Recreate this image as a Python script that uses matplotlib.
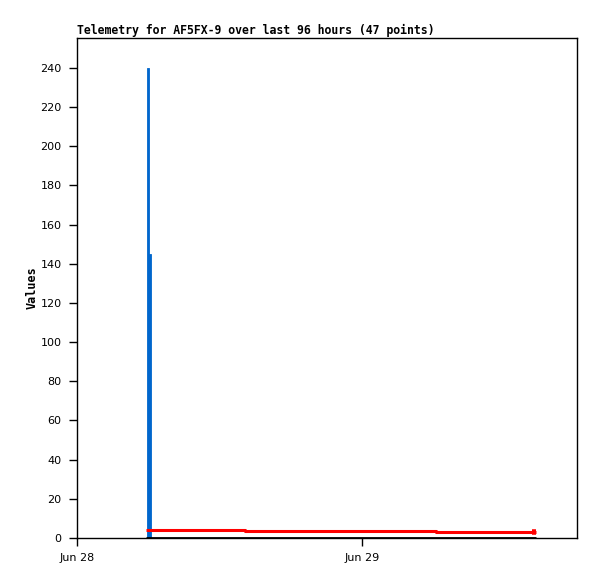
import datetime as dt

import matplotlib
matplotlib.use("Agg")
import matplotlib.dates as mdates
import matplotlib.pyplot as plt

start = dt.datetime(2024, 6, 28)

# hours after Jun 28 00:00
spike_hours = [5.98, 6.17]
spike_values = [240, 145]

red_hours = [5.81, 14.15, 30.23, 38.30, 38.65]
red_values = [3.9, 3.4, 2.9, 2.9, 2.9]

black_hours = [5.81, 38.65]
black_values = [0, 0]

x_start_hours = 0
x_end_hours = 42.1


def to_dates(hours):
    return [start + dt.timedelta(hours=h) for h in hours]


fig = plt.figure(figsize=(5.97, 5.79), dpi=100)
ax = fig.add_axes([77 / 597, 41 / 579, 500 / 597, 500 / 579])

ax.bar(to_dates(spike_hours), spike_values, width=0.2 / 24, color="#0066cc",
       edgecolor="#0066cc", linewidth=0.6, align="center")
ax.plot(to_dates(black_hours), black_values, color="black", linewidth=2, solid_capstyle="butt")
ax.plot(to_dates(red_hours), red_values, color="red", linewidth=2.2,
        drawstyle="steps-post", solid_capstyle="butt")
ax.plot(to_dates(red_hours[-2:]), [red_values[-1] + 0.3] * 2, color="red",
        linewidth=4, solid_capstyle="butt")

ax.set_xlim(to_dates([x_start_hours])[0], to_dates([x_end_hours])[0])
ax.set_ylim(0, 255.3)
ax.set_yticks(range(0, 241, 20))
ax.xaxis.set_major_locator(mdates.DayLocator())
ax.xaxis.set_major_formatter(mdates.DateFormatter("%b %d"))
ax.tick_params(direction="out", length=6, width=1, labelsize=8, pad=5)
for spine in ax.spines.values():
    spine.set_linewidth(1)

ax.set_ylabel("Values", fontfamily="DejaVu Sans Mono", fontweight="bold", fontsize=8.5,
              labelpad=1)
ax.set_title("Telemetry for AF5FX-9 over last 96 hours (47 points)", loc="left",
             fontfamily="DejaVu Sans Mono", fontweight="bold", fontsize=8.3, pad=3)

fig.savefig("out.png", dpi=100)
